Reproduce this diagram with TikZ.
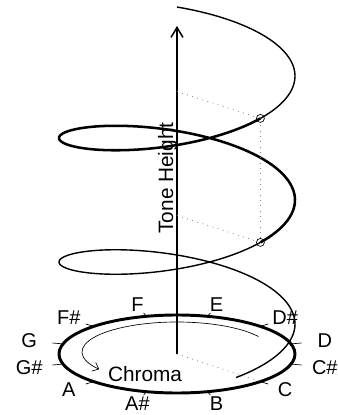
\documentclass[tikz,border=0pt]{standalone}
\usepackage{fontspec}
\setmainfont{Liberation Sans}
\usetikzlibrary{arrows.meta}

\tikzset{
  thinhelix/.style={line width=1.05pt},
  thickhelix/.style={line width=1.9pt},
  dotline/.style={line width=0.6pt, gray, dash pattern=on 0.6pt off 3.4pt},
  tickmark/.style={line width=0.5pt},
  notelab/.style={font=\fontsize{15}{18}\selectfont, inner sep=0pt},
  ring/.style={circle, draw, line width=0.5pt, minimum size=6pt, inner sep=0pt},
}

\begin{document}
\begin{tikzpicture}[x=0.75pt, y=0.75pt]
    \useasboundingbox (0,0) rectangle (338,415);
    \coordinate (O) at (177,61);
    \coordinate (top) at (177,389);

    % chroma circle
    \draw[line width=2.2pt] (O) ellipse [x radius=118, y radius=39];
    \foreach \a/\lab [count=\i] in {-15/C\#, 15/D, 45/D\#, 75/E, 105/F, 135/F\#, 165/G, 195/G\#, 225/A, 255/A\#, 285/B, 315/C} {
        \draw[tickmark] ([shift={(O)}]\a:118 and 39) -- ([shift={(O)}]\a:129 and 42.5);
        \node[notelab] (n\i) at ([shift={(O)}]\a:153 and 51) {\lab};
    }
    \draw[line width=0.5pt, -{Straight Barb[length=4pt, width=7pt]}]
        ([shift={(177,63)}]31:95 and 30) arc[start angle=31, end angle=215, x radius=95, y radius=30];
    \node[font=\fontsize{15.6}{18}\selectfont] (chroma) at (145,41) {Chroma};

    % helix: thick octave between the two C marks
    \draw[thinhelix] plot[domain=-60:315, samples=120, smooth, variable=\t]
        ({177+118*cos(\t)}, {91+0.3444*\t+38*sin(\t)});
    \draw[thickhelix] plot[domain=315:675, samples=120, smooth, variable=\t]
        ({177+118*cos(\t)}, {91+0.3444*\t+38*sin(\t)});
    \draw[thinhelix] plot[domain=675:810, samples=50, smooth, variable=\t]
        ({177+118*cos(\t)}, {91+0.3444*\t+38*sin(\t)});

    % height axis
    \draw[line width=1.1pt, -{Straight Barb[length=7.5pt, width=9pt]}] (O) -- (top);
    \node[font=\fontsize{15.6}{18}\selectfont, rotate=90, anchor=base] (height) at (173,237) {Tone Height};

    % octave marks
    \coordinate (pC) at ([shift={(O)}]-45:118 and 39);
    \coordinate (a1) at (177,199.5);
    \coordinate (a2) at (177,323.5);
    \node[ring] (c1) at (260.4,172.6) {};
    \node[ring] (c2) at (260.4,296.6) {};
    \draw[dotline] (O) -- (pC);
    \draw[dotline] (a1) -- (c1);
    \draw[dotline] (a2) -- (c2);
    \draw[dotline] (c1) -- (c2);
\end{tikzpicture}
\end{document}
